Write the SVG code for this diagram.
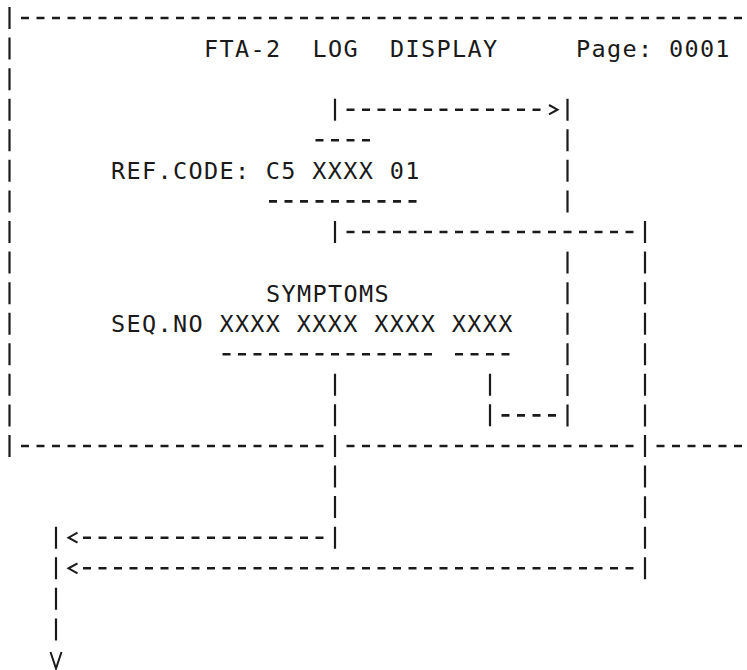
<svg xmlns="http://www.w3.org/2000/svg" width="747" height="670" viewBox="0 0 747 670">
  <style>
    .t { font-family: "DejaVu Sans Mono", "Liberation Mono", monospace; font-size: 23.5px; letter-spacing: 1.35px; fill: #1a1a1a; white-space: pre; }
    .h { stroke: #1a1a1a; stroke-width: 2.6; stroke-dasharray: 8 7.5; fill: none; }
    .v { stroke: #1a1a1a; stroke-width: 2.2; stroke-dasharray: 22 8.57; fill: none; }
    .a { stroke: #1a1a1a; stroke-width: 2; fill: none; stroke-linejoin: miter; }
  </style>
  <rect width="747" height="670" fill="#ffffff"/>

  <g id="frame">
    <line class="h" x1="21" y1="18" x2="757.5" y2="18"/>
    <line class="v" x1="9.5" y1="7" x2="9.5" y2="457"/>
    <line class="h" x1="21" y1="446" x2="323.5" y2="446"/>
    <line class="h" x1="346.5" y1="446" x2="633.5" y2="446"/>
    <line class="h" x1="656.5" y1="446" x2="757.5" y2="446"/>
  </g>

  <g id="title">
    <text class="t" x="203.9" y="57.1">FTA-2</text>
    <text class="t" x="312.4" y="57.1">LOG</text>
    <text class="t" x="389.9" y="57.1">DISPLAY</text>
    <text class="t" x="575.9" y="57.1">Page: 0001</text>
  </g>

  <g id="ref-code">
    <line class="h" x1="315.5" y1="140.3" x2="370" y2="140.3"/>
    <text class="t" x="110.9" y="179.35">REF.CODE: C5 XXXX 01</text>
    <line class="h" x1="269" y1="201.4" x2="416.5" y2="201.4"/>
  </g>

  <g id="symptoms">
    <text class="t" x="265.9" y="301.6">SYMPTOMS</text>
  </g>

  <g id="seq-no">
    <text class="t" x="110.9" y="332.2">SEQ.NO XXXX XXXX XXXX XXXX</text>
    <line class="h" x1="222.5" y1="354.3" x2="432" y2="354.3"/>
    <line class="h" x1="455" y1="354.3" x2="509.5" y2="354.3"/>
  </g>

  <g id="connectors">
    <!-- REF.CODE to right column -->
    <line class="v" x1="335" y1="98.7" x2="335" y2="120.7"/>
    <line class="h" x1="346.5" y1="109.7" x2="540.5" y2="109.7"/>
    <polyline class="a" points="549,105 557.5,109.7 549,114.4"/>
    <line class="v" x1="567.5" y1="98.7" x2="567.5" y2="212.4"/>

    <!-- upper bracket -->
    <line class="v" x1="335" y1="221" x2="335" y2="243"/>
    <line class="h" x1="346.5" y1="232" x2="633.5" y2="232"/>
    <line class="v" x1="645" y1="221" x2="645" y2="579.3"/>

    <!-- inner right column -->
    <line class="v" x1="567.5" y1="251.6" x2="567.5" y2="426.4"/>
    <line class="v" x1="490" y1="373.8" x2="490" y2="426.4"/>
    <line class="h" x1="501.5" y1="415.4" x2="556" y2="415.4"/>

    <!-- from SEQ.NO down -->
    <line class="v" x1="335" y1="373.8" x2="335" y2="548.7"/>
    <line class="h" x1="83" y1="537.7" x2="323.5" y2="537.7"/>
    <polyline class="a" points="77.5,532.7 68.5,537.7 77.5,542.7"/>
    <line class="h" x1="83" y1="568.3" x2="633.5" y2="568.3"/>
    <polyline class="a" points="77.5,563.3 68.5,568.3 77.5,573.3"/>

    <!-- output -->
    <line class="v" x1="56" y1="526.7" x2="56" y2="640.4"/>
    <polyline class="a" points="50.5,652 56,668.5 61.5,652"/>
  </g>
</svg>
